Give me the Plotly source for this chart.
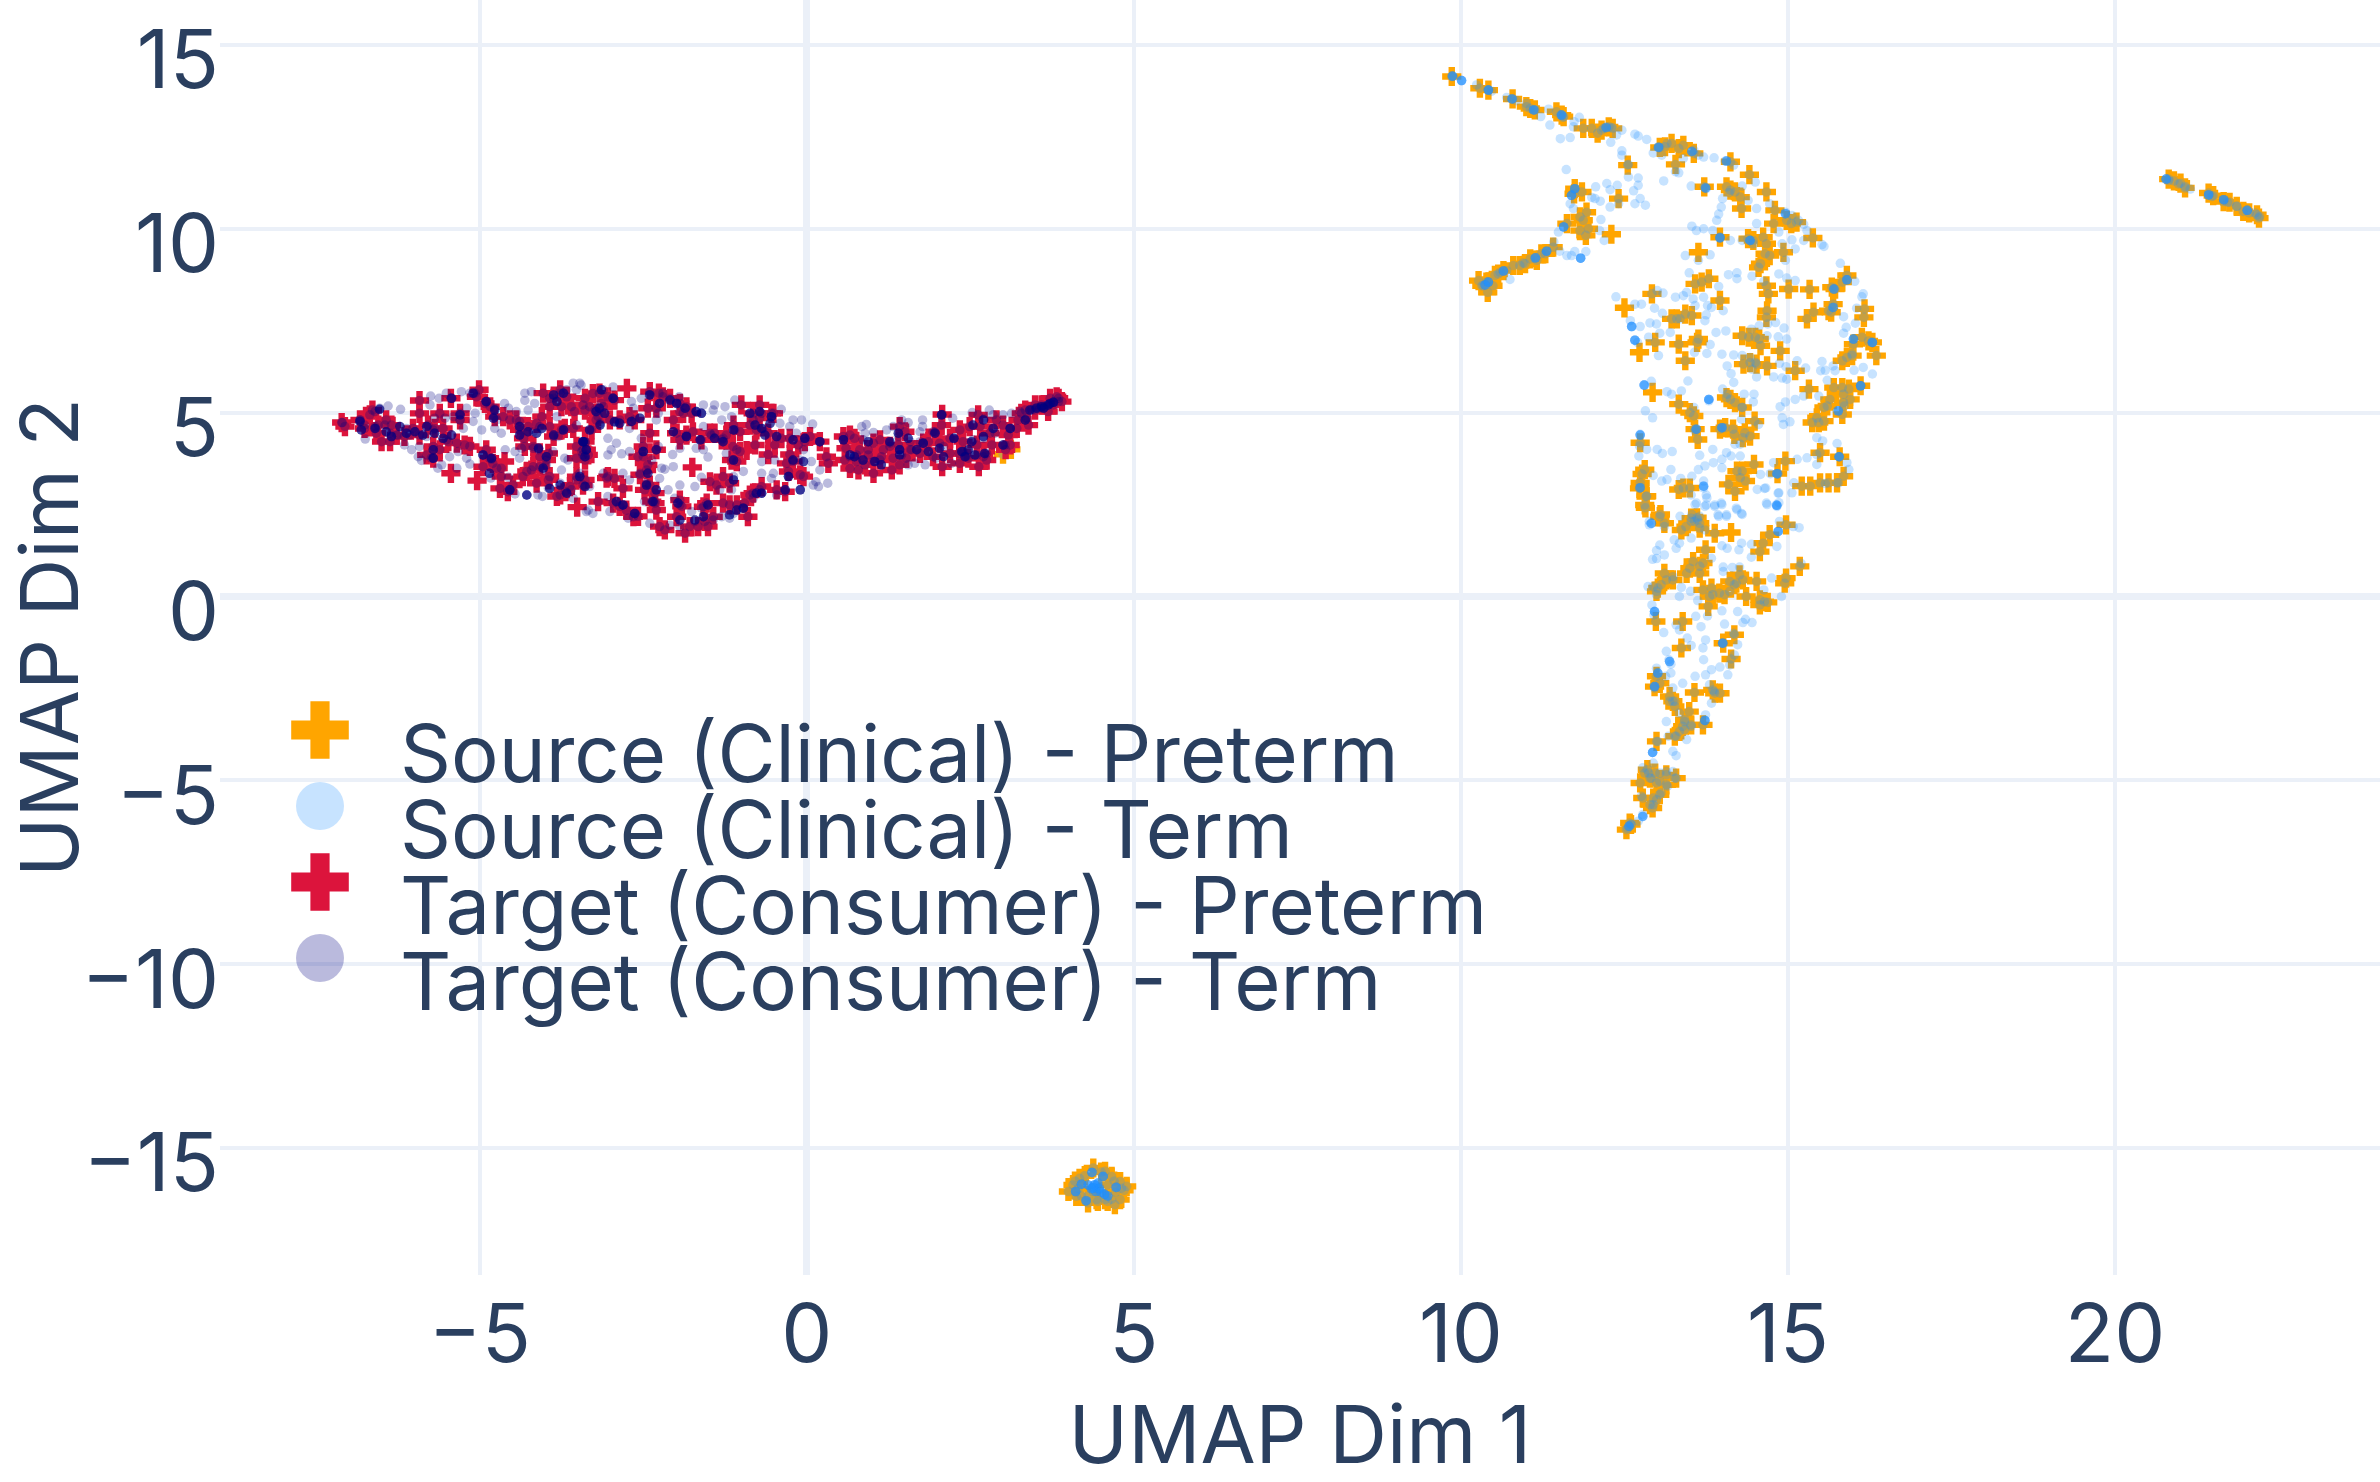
import plotly.graph_objects as go

source_preterm = [
(9.86,14.14),(10.42,13.77),(10.79,13.53),(11.06,13.27),(11.13,13.23),(11.54,13.09),(11.57,13.05),(11.87,12.73),(12.0,12.73),(12.09,12.6),(12.26,12.77),(12.32,12.73),
(13.04,12.21),(13.22,12.32),(13.4,12.27),(13.56,12.05),(13.28,11.75),(12.55,11.73),(14.12,11.82),(14.41,11.47),(14.67,11.0),(13.72,11.14),(14.12,11.05),(14.27,10.86),(14.29,10.55),
(14.8,10.5),(14.78,10.14),(15.05,10.14),(15.38,9.75),(11.74,11.09),(11.85,11.0),(12.41,10.82),(11.92,10.45),(11.87,10.23),(11.62,10.14),(11.91,9.82),(12.3,9.85),
(11.41,9.5),(11.23,9.32),(11.16,9.14),(10.98,9.05),(10.8,9.0),(10.65,8.86),(10.57,8.77),(10.39,8.55),(10.32,8.45),(10.41,8.27),(10.49,8.45),
(13.96,9.77),(14.39,9.73),(14.67,9.59),(14.72,9.27),(14.93,9.36),(14.55,8.95),(13.63,9.36),(13.79,8.64),(13.58,8.5),(12.92,8.23),(12.5,7.85),(13.96,8.05),
(13.43,7.68),(13.22,7.55),(13.33,6.86),(13.63,7.0),(12.97,6.91),(12.73,6.64),(13.43,6.41),(14.67,8.45),(14.7,8.23),(15.01,8.36),(15.33,8.35),(15.72,8.36),(15.9,8.73),(15.69,7.95),(15.66,7.73),(15.29,7.55),(15.39,7.73),(14.68,7.77),(14.67,7.59),
(16.17,7.82),(16.16,7.59),(16.13,7.05),(16.0,6.86),(16.29,6.91),(16.35,6.55),(15.98,6.55),(15.83,6.41),(14.3,7.09),(14.5,7.05),(14.58,6.82),(14.88,6.68),(14.32,6.32),(14.68,6.27),(14.42,6.36),(15.11,6.14),(15.32,5.64),
(15.83,5.68),(16.11,5.73),(15.95,5.36),(15.6,5.18),(15.83,4.95),(15.44,4.86),(15.37,4.73),(15.55,4.77),(12.93,5.55),(13.33,5.23),(13.56,4.91),(13.58,4.55),(13.62,4.27),(14.12,5.36),(14.3,5.14),(14.49,4.77),(13.96,4.55),(14.16,4.55),(14.31,4.32),
(12.74,4.18),(12.81,3.45),(12.74,3.09),(12.84,2.73),(12.82,2.41),(13.05,2.23),(13.4,2.95),(14.09,3.05),(14.19,2.86),(14.3,3.41),(14.48,3.59),(14.35,3.14),(14.96,3.68),(14.84,3.34),(15.49,3.91),(15.79,3.8),(15.21,3.0),(15.49,3.09),(15.75,3.09),(15.85,3.27),(13.61,2.14),
(12.73,2.94),(12.83,2.72),(12.81,2.49),(13.04,2.17),(13.11,1.99),(13.37,1.81),(13.57,2.04),(13.65,1.99),(13.88,1.72),(14.13,1.74),(14.57,1.22),(14.62,1.45),(14.72,1.68),(14.97,1.95),
(13.74,1.27),(13.55,0.95),(13.7,0.91),(13.45,0.63),(13.65,0.63),(13.11,0.63),(13.24,0.45),(12.99,0.14),(13.06,0.32),(13.7,0.18),(13.85,0.05),(14.03,0.05),(13.78,-0.27),(14.26,0.59),(14.18,0.32),(14.36,0.0),(14.52,0.41),(14.57,-0.23),(14.69,-0.16),(14.95,0.36),(15.18,0.82),
(12.98,-0.68),(13.39,-0.68),(13.37,-1.4),(14.01,-1.27),(14.18,-1.04),(14.13,-1.7),(12.99,-2.17),(12.96,-2.45),(13.24,-2.85),(13.57,-2.61),(13.88,-2.63),(13.49,-3.13),(13.39,-3.53),(13.7,-3.49),(13.27,-3.8),(12.99,-3.94),
(12.87,-4.8),(12.74,-5.07),(13.04,-5.03),(13.29,-4.94),(13.14,-5.12),(13.04,-5.39),(12.78,-5.48),(12.93,-5.75),(12.58,-6.16),(12.53,-6.34),
(4.38,-15.54),(4.56,-15.63),(4.17,-15.82),(4.07,-16.0),(4.0,-16.18),(4.12,-16.31),(4.3,-16.49),(4.71,-16.54),(4.79,-16.4),(4.89,-16.04),(4.79,-15.91),(4.66,-15.77),(4.43,-16.4),(4.56,-16.4),
(20.82,11.35),(21.0,11.24),(21.07,11.11),(21.43,10.97),(21.66,10.74),(21.86,10.61),(21.96,10.47),(22.17,10.38),(22.2,10.29),
(3.0,3.87),(3.12,4.0),
# tightly packed crosses
(10.29,13.82),(11.0,13.32),(11.46,13.18),(12.15,12.68),(13.12,12.23),(13.33,12.18),(14.06,11.14),(14.19,11.0),(14.98,10.23),(15.13,10.18),(11.73,10.95),(11.82,10.32),(11.95,10.0),(11.82,9.95),(11.29,9.32),(11.06,9.18),(10.9,9.0),(10.52,8.73),(10.27,8.59),(14.47,9.68),(14.62,9.77),(14.65,9.32),(14.58,9.05),(13.68,8.55),(13.3,7.55),(13.53,7.64),(13.61,6.91),(15.83,8.55),(15.67,8.41),(15.62,7.77),(16.23,6.95),(15.9,6.5),(14.4,7.05),(14.56,7.0),(14.52,6.32),(15.7,5.68),(15.93,5.64),(15.85,5.27),(15.64,5.36),(15.55,5.14),(15.47,4.73),(15.85,5.5),(14.19,5.27),(14.06,5.41),(14.04,4.59),(14.34,4.45),(14.18,4.41),(14.42,4.36),(13.5,5.0),(14.27,3.23),(14.22,3.41),(15.34,3.0),(15.62,3.09),(12.77,3.33),(13.33,2.91),(13.5,2.95),
(13.52,2.13),(13.44,1.9),(13.65,1.86),(14.21,0.36),(14.11,0.41),(14.31,0.45),(13.8,0.0),(13.95,0.09),(13.83,0.23),(13.01,0.23),(13.14,0.45),(13.65,0.82),(13.5,0.77),(14.64,-0.14),(14.57,-0.09),(14.97,0.5),(13.04,-2.36),(13.19,-2.72),(13.27,-2.99),(13.42,-3.35),(13.52,-3.49),(13.34,-3.67),(12.85,-4.71),(12.97,-4.8),(13.14,-4.85),(12.99,-5.07),(12.89,-4.94),(12.94,-5.48),(12.89,-5.66),(12.6,-6.2),(13.85,-2.54),(13.96,-2.63),
(4.5,-15.65),(4.25,-15.75),(4.1,-15.9),(4.2,-16.3),(4.45,-16.45),(4.6,-16.45),(4.72,-16.2),(4.85,-16.15),(4.15,-16.1),(4.7,-15.9),(4.6,-16.0),(4.3,-16.3),
(21.5,10.9),(21.75,10.72),(20.9,11.3),(22.05,10.43),
]

source_term = [
(9.88,14.14),(10.01,14.03),(10.24,13.91),(10.42,13.77),(10.47,13.74),(10.7,13.57),(10.85,13.48),(11.0,13.41),(11.13,13.23),(11.22,13.05),(11.34,13.25),(11.36,12.82),(11.52,13.09),(11.56,13.03),(11.52,12.45),(11.67,12.48),(11.73,12.91),(11.81,13.03),(11.72,12.77),(12.18,12.73),(12.3,12.75),(12.38,12.55),(12.46,12.68),(12.29,12.35),(12.66,12.57),(12.71,12.52),(12.84,12.43),
(12.46,12.12),(12.46,12.0),(12.56,11.75),(12.56,11.41),(12.71,11.38),(12.71,11.18),(12.64,11.03),(12.74,10.82),(12.66,10.68),(12.82,10.64),(12.06,11.14),(12.23,11.23),(12.28,11.06),(12.39,11.18),(11.61,11.61),(12.05,10.82),(12.13,10.75),(12.0,10.85),(12.28,10.59),(12.41,10.68),(11.69,10.91),(11.67,10.68),(11.72,10.55),(12.14,10.25),(12.12,9.95),(12.19,9.68),(11.57,10.05),(11.49,9.91),(11.42,9.64),(11.51,9.39),(11.62,9.27),(11.69,9.27),(11.74,9.38),(11.83,9.2),(11.91,9.38),(11.31,9.39),(11.13,9.2),(10.95,9.07),(10.7,8.86),(10.6,8.82),(10.42,8.55),(10.34,8.45),(10.75,8.62),
(13.02,12.23),(12.94,12.06),(13.07,12.0),(13.15,12.32),(13.56,12.14),(13.63,12.0),(13.4,11.91),(13.71,11.95),(13.87,11.93),(14.04,11.84),(14.17,11.73),(13.28,11.55),(13.33,11.52),(13.1,11.3),(13.52,11.16),(13.75,11.09),(14.3,11.16),(14.1,10.98),(14.0,10.82),(13.98,10.59),(14.39,10.77),(14.5,11.27),(14.52,10.55),(13.94,10.4),(13.91,10.23),(14.52,10.14),(14.72,10.68),(14.96,10.45),(15.06,10.36),(15.16,10.23),(15.24,10.12),(15.29,9.95),(14.86,9.91),(15.06,9.7),(15.24,9.68),(15.52,9.57),(15.55,9.52),
(13.53,10.07),(13.6,9.95),(13.71,10.0),(13.85,9.95),(13.96,9.77),(14.12,9.68),(14.3,9.68),(14.42,9.68),(14.47,9.59),(14.91,9.59),(15.11,9.45),(14.96,9.14),(14.86,8.77),(13.43,9.27),(13.81,9.29),(13.63,9.14),(13.49,8.8),(14.09,8.75),(14.22,8.8),(14.22,8.64),(14.45,8.71),(14.63,8.57),(14.98,8.66),(15.11,8.59),(15.8,9.06),(15.9,8.61),(16.02,8.57),(16.15,8.23),(16.13,8.15),(16.05,7.84),(15.85,7.61),(16.03,7.43),(15.89,7.32),(15.85,7.16),(16.0,7.0),(16.29,6.91),(15.98,6.6),
(12.37,8.15),(12.66,7.95),(12.76,7.95),(13.0,8.32),(13.09,8.25),(12.96,7.84),(13.08,7.7),(13.28,8.14),(13.4,8.18),(13.45,8.27),(13.55,8.09),(13.58,7.91),(13.71,8.14),(13.77,7.91),(13.83,7.86),(13.94,8.43),(14.01,7.77),(13.75,7.66),(13.73,7.5),(13.35,7.55),(12.61,7.34),(12.59,7.5),(12.74,7.34),(12.89,7.44),(12.99,7.41),(13.2,7.18),(12.87,7.05),(12.66,6.97),(12.7,6.91),(13.02,6.55),(13.04,7.16),(13.57,6.64),(13.76,6.61),(13.81,6.85),(13.9,7.18),(14.05,7.22),(13.99,6.59),
(14.44,7.27),(14.56,7.36),(14.69,7.41),(14.81,7.45),(14.94,7.3),(14.68,7.09),(14.85,7.06),(14.98,7.0),(14.17,6.57),(14.3,6.55),(14.42,6.5),(14.45,6.18),(14.5,6.36),(14.07,6.27),(14.13,6.06),(14.52,5.97),(14.78,5.97),(14.91,5.94),(14.98,5.91),(14.87,6.34),(14.97,6.25),(15.14,6.41),(15.27,6.21),(15.5,6.14),(15.52,6.39),(15.57,6.15),(15.69,6.27),(15.72,6.14),(16.01,6.15),(16.15,6.23),(16.29,6.05),(15.6,5.88),(16.11,5.73),(15.47,5.45),(15.24,5.45),(15.11,5.36),(14.96,5.29),(14.88,5.16),(14.91,4.86),(15.03,4.75),(14.93,4.68),(15.75,5.05),(15.86,5.18),
(12.81,5.75),(12.91,5.85),(13.15,5.57),(13.22,5.5),(13.37,5.59),(13.47,5.86),(13.79,5.36),(13.79,5.32),(14.0,5.64),(14.17,5.82),(14.07,5.5),(14.33,5.5),(14.48,5.5),(14.47,5.29),(14.3,5.14),(12.82,5.05),(12.93,4.86),(13.56,5.14),(13.58,4.5),(13.99,4.59),(14.55,4.68),(14.29,4.82),
(12.74,4.41),(12.73,4.09),(12.84,4.0),(13.0,4.0),(13.08,3.89),(13.23,3.94),(13.85,4.0),(13.65,3.84),(14.19,4.14),(14.27,4.14),(14.06,3.91),(14.13,3.82),(14.27,3.82),(13.99,3.73),(13.99,3.5),(13.86,3.64),(13.73,3.55),(13.63,3.45),(13.21,3.45),(12.72,3.82),(12.94,3.29),(13.15,3.18),(13.07,3.14),(13.36,3.21),(13.53,3.27),(13.71,3.14),(13.71,2.95),(14.78,3.64),(14.58,3.32),(14.73,3.34),(14.85,3.34),(15.14,3.73),(15.29,3.77),(15.44,3.86),(15.44,4.32),(15.53,4.23),(15.75,4.16),(15.78,3.8),(15.44,3.59),(15.9,3.64),(15.93,3.45),(15.09,3.09),(15.06,2.82),(14.86,2.82),(14.86,2.55),(14.68,2.5),(14.83,2.45),(14.53,2.91),(14.66,2.95),(15.57,3.07),(15.77,3.09),
(13.76,2.68),(13.73,2.45),(13.58,2.5),(13.88,2.45),(13.99,2.5),(14.22,2.36),(14.3,2.23),(13.94,2.18),(14.06,2.18),(13.35,2.18),(13.53,2.23),(13.65,2.18),
(12.88,1.95),(12.88,2.04),(13.11,1.9),(13.52,2.04),(13.62,2.08),(13.73,1.81),(13.52,2.76),(13.6,2.54),(13.75,2.49),(13.93,2.22),(14.06,2.22),(13.75,2.76),(13.88,2.49),(13.98,2.54),(14.21,2.4),(14.29,2.26),(14.64,2.94),(14.67,2.54),(14.82,2.49),(14.85,2.81),(14.87,2.04),(14.85,1.77),(15.08,1.9),(15.17,1.87),
(14.29,1.45),(13.99,1.38),(14.07,1.31),(14.25,1.27),(14.44,1.42),(14.83,1.36),(14.44,1.07),(13.26,1.54),(13.34,1.45),(13.52,1.59),(13.29,1.31),(13.04,1.4),(12.99,1.25),(12.93,1.01),(12.99,1.03),(13.11,1.13),(13.83,1.04),
(14.01,0.8),(14.15,0.79),(14.26,0.8),(14.01,0.68),(14.75,0.5),(14.9,0.0),(15.2,0.9),(13.24,0.54),(12.94,0.27),(12.86,0.27),(12.99,0.05),(13.34,0.0),(13.37,0.25),(13.51,0.14),(13.62,-0.11),(14.11,0.14),(14.63,0.18),
(12.92,-0.23),(12.96,-0.41),(12.95,-0.5),(13.1,-0.98),(13.59,-0.54),(13.67,-0.82),(13.29,-0.77),(13.34,-0.91),(13.77,-0.53),(13.99,-0.39),(14.03,-0.75),(14.31,-0.71),(14.35,-0.62),(14.45,-0.71),(14.23,-0.41),
(13.46,-1.13),(13.52,-1.33),(13.74,-1.18),(13.7,-1.4),(13.71,-1.72),(14.0,-1.27),(14.17,-1.0),(14.23,-1.31),(14.18,-1.59),
(13.14,-1.49),(13.18,-1.72),(13.21,-1.84),(12.99,-1.95),(13.01,-2.1),(13.13,-2.17),(13.21,-2.08),(13.58,-2.17),(13.74,-2.13),(13.83,-1.99),(13.96,-1.92),(14.11,-1.86),(14.08,-2.13),(13.39,-2.36),(13.24,-2.49),(12.96,-2.49),(13.87,-2.58),(13.8,-2.4),(13.83,-2.9),
(13.19,-2.85),(13.27,-2.85),(13.34,-3.17),(13.42,-3.4),(13.14,-3.4),(13.74,-3.22),(13.73,-3.37),(13.52,-3.53),(13.42,-3.62),(13.29,-3.8),(13.17,-3.8),(13.45,-3.89),(13.01,-3.94),(12.93,-4.24),(13.24,-4.21),(13.29,-4.33),
(12.94,-4.53),(12.78,-4.66),(12.81,-4.8),(12.91,-4.94),(13.04,-4.8),(13.14,-4.76),(13.24,-4.76),(13.27,-4.94),(13.16,-5.16),(13.06,-5.34),(12.99,-5.53),(12.76,-5.43),(12.94,-5.66),(12.78,-5.93),(12.71,-6.11),(12.6,-6.2),(12.55,-6.3),
(4.36,-15.66),(4.53,-15.77),(4.2,-15.98),(4.11,-16.18),(4.27,-16.45),(4.4,-16.0),(4.48,-16.13),(4.38,-16.18),(4.56,-16.27),(4.66,-16.39),(4.73,-16.06),(4.81,-16.09),(4.33,-16.04),(4.44,-15.98),(4.47,-16.06),(4.42,-16.1),
(20.78,11.35),(20.82,11.31),(20.97,11.22),(21.07,11.15),(21.15,11.08),(21.43,10.92),(21.48,10.88),(21.66,10.79),(21.72,10.72),(21.86,10.61),(22.02,10.5),(22.14,10.43),(22.21,10.33),
]

# Saturated blue spots, where several Source (Clinical) - Term points pile up.
source_term_piles = [
(9.87,14.15),(10.01,14.03),(10.42,13.77),(10.78,13.53),(11.11,13.23),(11.54,13.09),(12.22,12.75),(13.02,12.21),(13.53,12.1),(14.06,11.84),(13.74,11.11),(11.69,10.91),(11.74,11.09),(11.57,10.05),(10.42,8.55),(10.37,8.47),(10.65,8.85),(11.31,9.39),(11.14,9.21),(11.83,9.2),(13.96,9.75),(14.42,9.68),(14.96,10.41),(15.9,8.61),(15.7,8.36),(15.69,7.86),(12.61,7.34),(12.66,6.97),(16.29,6.91),(16.0,7.0),(16.11,5.73),(15.77,5.05),(12.8,5.75),(13.79,5.36),(13.6,4.55),(13.99,4.59),(12.74,4.39),(15.78,3.8),(12.74,2.96),(13.71,3.0),(14.83,3.34),(14.83,2.48),
(12.91,1.99),(14.85,1.77),(12.96,-0.41),(14.0,-1.27),(13.19,-1.77),(13.01,-2.08),(12.96,-2.45),(13.73,-3.37),(12.93,-4.24),(12.78,-5.98),(12.57,-6.25),
(4.4,-16.0),(4.47,-16.1),(4.35,-16.1),(4.5,-16.2),(4.55,-16.25),(4.6,-16.3),(4.42,-16.18),(4.45,-15.95),(4.3,-16.0),(4.38,-16.08),(4.27,-16.43),(4.2,-15.98),(4.11,-16.18),(4.36,-15.66),(4.53,-15.77),(4.73,-16.07),
(20.78,11.35),(21.43,10.92),(21.66,10.79),(22.02,10.5),
]

# Orange crosses that show no blue dot on top of them.
bare_source_crosses = [(12.3,9.85),(13.63,9.36),(12.5,7.85),(12.73,6.64),(12.93,5.55),(14.13,1.74)]

target_preterm = [
(-7.11,4.73),(-7.06,4.62),(-6.64,5.07),(-6.68,4.94),(-6.43,4.8),(-6.5,4.21),(-6.37,4.21),(-6.58,4.44),(-5.92,5.33),(-5.92,4.98),(-5.44,5.39),(-5.61,4.98),(-5.01,5.62),(-5.05,5.43),(-5.3,4.98),(-5.71,3.76),(-5.71,4.08),(-5.44,3.35),(-5.04,3.15),(-5.23,4.12),(-4.9,3.99),(-4.8,3.62),(-4.62,3.67),(-4.95,3.53),(-4.67,3.26),(-4.57,2.85),(-4.28,3.4),(-4.18,3.53),(-4.44,4.8),(-4.64,4.89),(-4.84,5.16),(-4.05,4.89),(-4.18,4.08),(-4.08,3.8),(-4.03,5.53),(-3.77,5.62),(-3.67,5.43),(-3.39,5.39),(-3.55,5.03),(-3.7,4.57),(-3.42,3.99),(-3.39,3.17),(-3.93,3.26),(-3.77,2.76),(-3.62,2.99),(-3.51,2.43),(-3.98,3.71),(-4.33,4.3),(-3.87,4.35),
(-2.75,5.66),(-3.17,5.53),(-2.4,5.57),(-2.26,5.53),(-2.94,5.34),(-2.43,5.12),(-2.71,4.89),(-3.22,4.8),(-1.84,5.16),(-2.04,4.8),(-2.4,4.44),(-1.84,4.39),(-1.94,4.26),(-1.41,4.44),(-1.12,4.66),(-1.0,5.21),(-0.72,5.21),(-0.92,3.97),(-1.15,3.71),(-1.13,4.08),(-2.3,3.99),(-2.5,3.8),(-2.45,3.44),(-1.75,3.51),(-1.48,3.12),(-1.28,3.26),(-1.18,3.08),(-2.94,3.21),(-3.06,3.22),(-2.81,2.94),(-3.34,3.85),(-3.19,2.58),(-2.86,2.45),(-2.58,2.18),(-2.48,2.9),(-2.32,2.54),(-2.25,1.9),(-2.17,1.81),(-1.86,1.72),(-1.66,1.9),(-1.51,1.9),(-1.91,2.45),(-1.53,2.54),(-1.18,2.49),(-0.9,2.17),(-0.95,2.54),(-0.82,2.81),(-0.69,2.99),(-0.33,2.85),(-0.1,3.31),(-0.59,3.86),(-0.39,4.3),(-0.26,3.86),(0.05,4.35),(0.33,3.62),(-0.51,4.98),
(0.66,4.39),(0.66,3.48),(0.79,3.44),(1.02,3.35),(1.02,4.17),(1.3,3.44),(1.42,3.58),(1.42,4.62),(1.27,4.08),(1.12,4.26),(2.07,4.95),(2.06,4.66),(2.07,3.53),(1.78,4.17),(2.34,3.62),(2.63,3.53),(2.34,4.53),(2.62,4.94),(2.49,4.62),(2.8,4.44),(3.0,4.66),(3.04,3.99),(3.11,4.12),(3.21,4.57),(3.39,4.66),(3.34,5.07),(3.49,5.21),(3.69,5.03),(3.72,5.39),(3.82,5.43),(3.9,5.3),(2.75,3.71),(2.03,4.17),(1.58,3.99),
# tightly packed crosses
(0.56,4.35),(0.6,4.03),(0.58,3.71),(0.73,4.3),(0.81,3.99),(0.76,3.67),(0.89,3.58),(0.94,3.85),(1.12,3.71),(1.17,3.99),(1.32,3.76),(1.4,4.12),(1.5,4.48),(1.6,3.99),(1.52,3.76),(1.73,3.89),(1.86,4.21),(1.93,3.8),(1.96,4.48),(2.19,4.3),(2.19,3.89),(2.33,3.89),(2.39,4.21),(2.47,3.76),(2.6,4.12),(2.7,3.8),(2.83,4.12),(2.65,4.62),(2.9,4.8),(3.08,4.39),(3.23,4.8),(3.28,4.98),(3.59,5.21),(3.49,5.07),(3.77,5.21),(3.85,5.39),
(-3.39,5.07),(-3.27,5.52),(-3.32,5.16),(-3.04,5.43),(-3.11,5.16),(-3.19,4.89),(-3.01,4.8),(-2.86,4.8),(-2.63,4.8),(-3.29,4.53),(-3.39,4.21),(-3.44,3.94),(-3.39,3.71),(-2.3,5.12),(-2.2,5.43),(-2.09,5.39),(-1.94,5.25),(-1.89,4.98),(-1.76,4.98),(-1.99,4.44),(-1.74,4.48),(-1.61,4.26),(-1.48,4.44),(-1.3,4.26),(-1.23,4.39),(-1.02,4.48),(-0.82,4.98),(-0.87,4.66),(-0.72,4.85),(-0.54,4.98),(-0.77,4.53),(-0.59,4.44),(-0.49,4.12),(-0.26,4.3),(-0.13,4.12),(-0.03,4.21),(0.2,4.21),(0.3,3.8),(-0.31,3.62),(-0.21,3.67),(-0.05,3.26),(-0.28,3.4),(-0.46,2.9),(-2.5,4.08),(-2.58,3.8),(-2.43,3.58),(-2.55,3.31),(-2.4,3.03),(-2.32,2.81),(-2.3,2.35),(-2.37,2.58),(-2.96,2.54),(-2.76,2.35),(-2.65,2.17),(-3.04,3.26),(-3.42,3.03),(-1.94,2.62),(-1.99,2.17),(-1.79,1.9),(-1.58,2.44),(-1.56,2.04),(-1.43,2.17),(-1.07,2.49),(-0.87,2.76),(-1.28,2.54),(-1.38,3.03),(-1.07,3.67),(-1.02,3.94),(-0.79,4.12),
(-6.83,4.8),(-6.76,4.57),(-6.55,4.66),(-6.35,4.66),(-6.27,4.39),(-6.15,4.35),(-6.02,4.57),(-5.92,4.39),(-5.79,4.66),(-5.69,4.57),(-5.56,4.57),(-5.48,4.21),(-5.81,3.85),(-5.61,3.99),(-5.3,4.8),(-5.15,4.08),(-5.35,4.17),(-4.92,5.25),(-4.77,4.89),(-4.54,4.8),(-4.39,4.53),(-4.26,4.62),(-4.13,4.71),(-3.93,4.62),(-3.75,4.53),(-3.57,4.57),(-3.87,5.39),(-3.93,5.16),(-3.75,5.16),(-3.6,5.16),(-3.42,5.21),(-3.52,4.08),(-3.52,3.76),(-3.37,3.99),(-4.85,3.76),(-4.74,3.49),(-4.34,3.26),(-4.21,3.44),(-3.95,3.17),(-3.82,2.72),(-3.69,2.85),(-3.52,3.26),(-4.13,3.08),(-4.69,2.94),(-4.49,3.03),(-3.95,3.89),(-4.08,3.53),(-4.31,4.08),
]

target_term = [
(-7.1,4.73),(-6.83,4.8),(-6.76,4.66),(-6.75,4.28),(-6.6,5.03),(-6.53,5.12),(-6.4,5.18),(-6.21,5.09),(-6.6,4.62),(-6.45,4.66),(-6.37,4.44),(-6.25,4.39),(-6.12,4.57),(-6.07,4.39),(-6.15,4.12),(-6.04,3.99),(-5.94,3.8),(-5.89,3.7),(-5.92,4.08),(-5.81,4.35),(-5.71,4.53),(-5.51,4.26),(-5.69,4.85),(-5.53,4.85),(-5.4,4.89),(-5.75,5.45),(-5.62,5.39),(-5.76,5.21),(-5.74,3.76),(-5.58,3.58),(-5.64,3.49),(-5.35,3.49),(-5.33,3.94),(-5.46,3.8),(-5.2,3.76),(-5.15,3.6),(-5.28,5.57),(-5.15,5.53),(-5.07,5.53),(-5.51,5.53),(-5.2,5.12),(-5.07,4.98),(-5.3,4.8),(-5.1,4.76),(-5.25,4.57),(-4.97,4.53),(-4.77,4.57),(-4.67,4.44),(-4.9,5.3),(-4.77,5.12),(-4.62,5.25),(-4.56,5.12),(-4.44,5.03),(-4.74,4.8),(-4.39,4.76),(-4.31,5.53),(-4.21,5.57),(-4.31,5.33),(-4.16,5.25),(-4.26,5.07),(-4.08,4.62),(-4.18,4.48),(-3.82,4.89),(-3.8,4.35),(-3.52,4.66),(-3.93,5.39),(-3.77,5.53),(-3.57,5.8),(-3.47,5.8),(-3.52,5.62),(-3.67,5.62),(-3.39,4.21),(-4.82,3.73),(-4.95,3.85),(-4.67,3.49),(-4.83,3.22),(-4.54,2.9),(-4.28,2.76),(-4.46,2.79),(-4.11,2.76),(-4.04,2.72),(-4.56,3.24),(-4.39,3.76),(-4.61,3.99),(-4.46,3.94),(-4.36,4.03),(-4.18,4.03),(-4.1,3.99),(-3.98,3.58),(-4.03,3.44),(-3.95,2.94),(-3.77,3.08),(-3.75,3.44),(-3.65,3.71),(-3.6,2.9),(-3.52,3.17),(-3.57,2.67),(-3.37,2.31),(-3.47,3.35),(-3.88,3.94),(-3.7,3.76),
(-3.45,5.75),(-2.96,5.7),(-3.11,5.62),(-3.14,5.25),(-2.96,5.39),(-3.24,5.07),(-2.68,5.3),(-2.65,5.12),(-2.53,5.39),(-2.41,5.48),(-2.2,5.53),(-1.95,5.43),(-1.99,5.25),(-1.69,5.03),(-1.58,5.21),(-1.41,5.21),(-1.25,5.16),(-1.1,5.34),(-1.43,5.07),(-1.61,4.98),(-1.94,5.03),(-2.27,4.98),(-2.3,4.8),(-2.91,4.75),(-3.16,4.71),(-2.71,4.57),(-3.04,4.3),(-2.91,4.17),(-2.99,3.99),(-3.04,3.85),(-2.83,3.88),(-2.71,3.94),(-3.39,4.17),(-3.42,3.85),(-2.53,4.3),(-2.27,4.08),(-2.5,3.94),(-2.37,3.71),(-2.22,3.49),(-2.17,3.46),(-2.05,3.86),(-2.04,3.53),(-1.94,4.03),(-1.69,4.03),(-1.58,3.99),(-1.51,3.79),(-1.84,4.35),(-1.58,4.62),(-1.46,4.39),(-1.28,4.3),(-1.3,4.8),(-1.15,4.89),(-1.1,4.53),(-1.23,3.89),(-1.07,3.99),(-0.69,4.98),(-0.54,4.89),(-0.39,5.09),(-0.67,4.57),(-0.41,4.71),(-0.82,4.8),(-0.21,4.8),(-0.08,4.8),(0.09,4.69),(-0.26,4.62),(-0.16,4.44),(-0.03,4.3),(0.2,3.44),(0.14,3.12),(0.18,2.99),(0.32,3.08),(0.1,3.03),(-0.1,2.9),(-0.28,3.26),(-0.51,3.35),(-0.69,3.35),(-0.54,3.21),(-0.46,2.76),(-0.69,2.81),(-0.49,3.71),(-0.69,3.67),(-0.1,3.71),(-0.05,3.99),(0.07,3.67),(-0.97,3.4),(-1.15,2.9),(-1.33,2.9),(-1.61,3.24),(-1.71,2.99),(-1.94,3.03),(-2.12,2.9),(-2.25,3.21),(-2.71,3.17),(-2.81,3.35),(-3.11,3.35),(-3.32,2.99),(-3.04,2.72),(-3.01,2.31),(-3.27,2.26),(-3.34,2.35),(-2.73,2.13),(-2.4,1.99),(-2.63,2.26),(-2.81,2.49),(-2.48,2.58),(-2.32,2.58),(-2.45,3.08),(-2.55,3.35),(-2.02,2.67),(-1.94,2.49),(-1.76,2.31),(-1.71,2.04),(-1.61,2.4),(-1.43,2.08),(-1.3,2.17),(-1.18,2.13),(-1.12,2.26),(-0.97,2.4),(-1.94,1.9),(-2.09,1.94),(-0.82,2.67),(-0.72,2.9),(-1.12,3.26),
(0.84,4.62),(0.91,4.68),(0.89,4.44),(1.02,4.46),(1.22,4.53),(1.32,4.62),(1.45,4.8),(1.55,4.73),(1.77,4.8),(1.77,4.62),(1.73,4.48),(0.56,4.26),(0.66,3.8),(0.76,3.85),(0.86,4.26),(0.94,3.99),(1.02,3.67),(1.14,3.8),(1.42,3.99),(1.45,3.85),(1.4,4.35),(1.27,4.17),(1.58,4.21),(1.55,3.58),(1.65,3.62),(1.81,3.58),(1.73,4.21),(1.93,4.48),(2.06,4.93),(2.23,4.85),(2.09,4.08),(2.25,4.3),(1.98,3.76),(2.21,3.62),(2.39,3.94),(2.44,3.8),(2.6,3.85),(2.75,3.89),(2.7,4.3),(2.54,4.26),(2.72,4.85),(2.53,5.0),(2.79,5.07),(2.85,4.94),(3.0,4.94),(3.13,4.98),(2.88,4.44),(3.11,4.57),(3.03,4.12),(3.26,5.03),(3.36,4.85),(3.44,5.07),(3.56,5.12),(3.64,5.16),(3.77,5.28),(3.85,5.3),
]

# Dark navy spots, where several Target (Consumer) - Term points pile up.
target_term_piles = [
(-6.53,5.09),(-6.83,4.76),(-6.81,4.53),(-6.6,4.57),(-6.43,4.48),(-6.35,4.35),(-6.22,4.62),(-6.12,4.44),(-5.99,4.48),(-5.87,4.39),(-5.81,4.62),(-5.69,4.44),(-5.56,4.3),(-5.43,4.39),(-5.71,3.99),(-5.71,3.76),(-5.3,4.94),(-5.43,5.39),(-5.1,5.53),(-4.9,5.3),(-4.77,5.07),(-4.79,4.85),(-4.39,4.62),(-4.26,4.48),(-4.13,4.44),(-4.05,4.57),(-4.39,4.39),(-3.87,5.48),(-3.72,5.53),(-3.82,5.3),(-4.82,3.76),(-4.95,3.85),(-4.85,3.35),(-4.54,2.9),(-4.28,2.76),(-4.1,4.03),(-3.98,3.8),(-4.03,3.49),(-3.93,2.94),(-3.77,3.03),(-3.67,2.81),(-3.47,3.26),(-3.42,4.21),(-3.37,3.99),(-3.72,4.53),(-3.87,4.39),
(-3.14,5.62),(-3.17,5.12),(-3.22,5.03),(-2.96,5.39),(-3.09,4.98),(-2.94,4.75),(-2.86,4.71),(-2.68,4.76),(-2.55,4.85),(-3.16,4.66),(-3.32,4.53),(-3.42,4.21),(-3.39,3.8),(-2.4,5.48),(-2.25,5.25),(-2.09,5.34),(-1.99,5.25),(-1.86,5.12),(-1.69,5.03),(-1.61,4.98),(-2.04,4.48),(-1.84,4.35),(-1.63,4.26),(-1.41,4.3),(-1.28,4.21),(-1.12,4.53),(-0.87,4.98),(-0.72,5.03),(-0.54,4.89),(-0.79,4.66),(-0.69,4.57),(-0.56,4.71),(-0.64,4.39),(-0.46,4.35),(-0.21,4.26),(-0.03,4.3),(0.2,4.21),(-0.21,3.71),(-0.05,3.67),(-0.28,3.26),(-0.33,2.9),(-0.1,2.9),(-2.5,3.94),(-2.3,3.99),(-2.43,3.35),(-2.45,3.03),(-2.3,2.9),(-2.35,2.58),(-2.91,2.58),(-2.81,2.49),(-2.63,2.26),(-1.97,2.54),(-1.94,2.08),(-1.71,2.08),(-1.51,2.49),(-1.58,2.17),(-0.97,2.4),(-1.07,2.35),(-1.18,2.22),(-0.77,2.81),(-0.69,2.81),(-1.12,3.17),(-1.12,3.71),(-3.39,2.99),
(0.56,4.26),(0.66,3.85),(0.73,3.8),(0.86,3.71),(0.94,4.21),(1.04,3.67),(1.14,3.58),(1.27,4.21),(1.4,4.44),(1.42,3.99),(1.42,3.85),(1.55,4.3),(1.68,3.99),(1.78,4.17),(1.86,3.94),(1.96,4.44),(2.06,4.94),(2.03,4.03),(2.09,3.8),(2.25,4.3),(2.37,3.94),(2.47,3.99),(2.42,3.8),(2.57,3.85),(2.72,3.89),(2.7,4.35),(2.52,4.21),(2.54,4.66),(2.7,4.8),(2.85,4.57),(3.11,4.57),(3.0,4.12),(3.34,4.8),(3.41,5.07),(3.51,5.12),(3.62,5.12),(3.69,5.21),(3.77,5.28),(3.72,5.25),(3.59,5.16),
]

# Red crosses that show no navy dot on top of them.
bare_target_crosses = [(-5.44,3.35),(-5.04,3.15),(-1.75,3.51),(-0.92,3.97),(-2.75,5.66),(-2.3,3.99),(-4.62,3.67),(-3.51,2.43)]

pile_overlap = 4

series_names = ["Source (Clinical) - Preterm", "Source (Clinical) - Term",
                "Target (Consumer) - Preterm", "Target (Consumer) - Term"]
x_ticks = [-5, 0, 5, 10, 15, 20]
y_ticks = [-15, -10, -5, 0, 5, 10, 15]

INK = "#2a3f5f"
GRID = "#EBF0F8"


def add(points, name, colour, symbol, size, opacity):
    fig.add_trace(go.Scatter(
        x=[p[0] for p in points], y=[p[1] for p in points], mode="markers", name=name,
        marker=dict(color=colour, symbol=symbol, size=size, opacity=opacity, line=dict(width=0)),
    ))


fig = go.Figure()
add(source_preterm, series_names[0], "#FFA500", "cross", 16, 1.0)
add(source_term + [p for p in source_preterm if p not in bare_source_crosses] + source_term_piles * pile_overlap,
    series_names[1], "#1E90FF", "circle", 9.5, 0.25)
add(target_preterm, series_names[2], "#DC143C", "cross", 16, 1.0)
add(target_term + [p for p in target_preterm if p not in bare_target_crosses] + target_term_piles * pile_overlap,
    series_names[3], "#000080", "circle", 9.5, 0.27)

axis = dict(showgrid=True, gridcolor=GRID, gridwidth=3.5, zeroline=True, zerolinecolor=GRID,
            zerolinewidth=7, showline=False, ticks="", automargin=False, ticklabeloverflow="allow",
            tickfont=dict(family="Inter", size=81, color=INK))
fig.update_layout(
    width=2380, height=1482, autosize=False, template="plotly_white",
    margin=dict(l=220, r=0, t=0, b=207),
    paper_bgcolor="white", plot_bgcolor="white",
    font=dict(family="Inter", color=INK, size=80),
    xaxis=dict(axis, range=[-8.97, 24.05], tickvals=x_ticks,
               title=dict(text="UMAP Dim 1", standoff=30, font=dict(family="Inter", size=80, color=INK))),
    yaxis=dict(axis, range=[-18.45, 16.22], tickvals=y_ticks,
               title=dict(text="UMAP Dim 2", standoff=10, font=dict(family="Inter", size=80, color=INK))),
    showlegend=True,
    legend=dict(x=0.03, y=0.5, xanchor="left", yanchor="top", bgcolor="rgba(0,0,0,0)",
                itemsizing="constant", font=dict(family="Inter", size=79.5, color=INK)),
)

# Plotly has no legend row-height or tick-label offset option, so these are set after drawing.
finish_page = """
document.body.style.margin = '0';
var root = document.getElementById('{plot_id}');
var legend = root.querySelector('.legend');
legend.setAttribute('transform', 'translate(270,680)');
var box = legend.querySelector('.scrollbox');
if (box) { box.removeAttribute('clip-path'); }
legend.querySelectorAll('.traces').forEach(function (row, i) {
  row.setAttribute('transform', 'translate(0,' + (50 + 76 * i) + ')');
  row.querySelectorAll('.legendpoints path').forEach(function (p) {
    p.setAttribute('transform', 'translate(50,0) scale(4)');
  });
  var label = row.querySelector('.legendtext');
  label.setAttribute('x', 130);
  label.setAttribute('y', 52);
});
root.querySelectorAll('.ytick text').forEach(function (t) {
  t.setAttribute('y', parseFloat(t.getAttribute('y') || 0) + 15);
});
root.querySelectorAll('.xtick text').forEach(function (t) {
  t.setAttribute('y', parseFloat(t.getAttribute('y') || 0) + 5);
});
"""
fig.write_html("out.html", post_script=finish_page, config={"displayModeBar": False})
